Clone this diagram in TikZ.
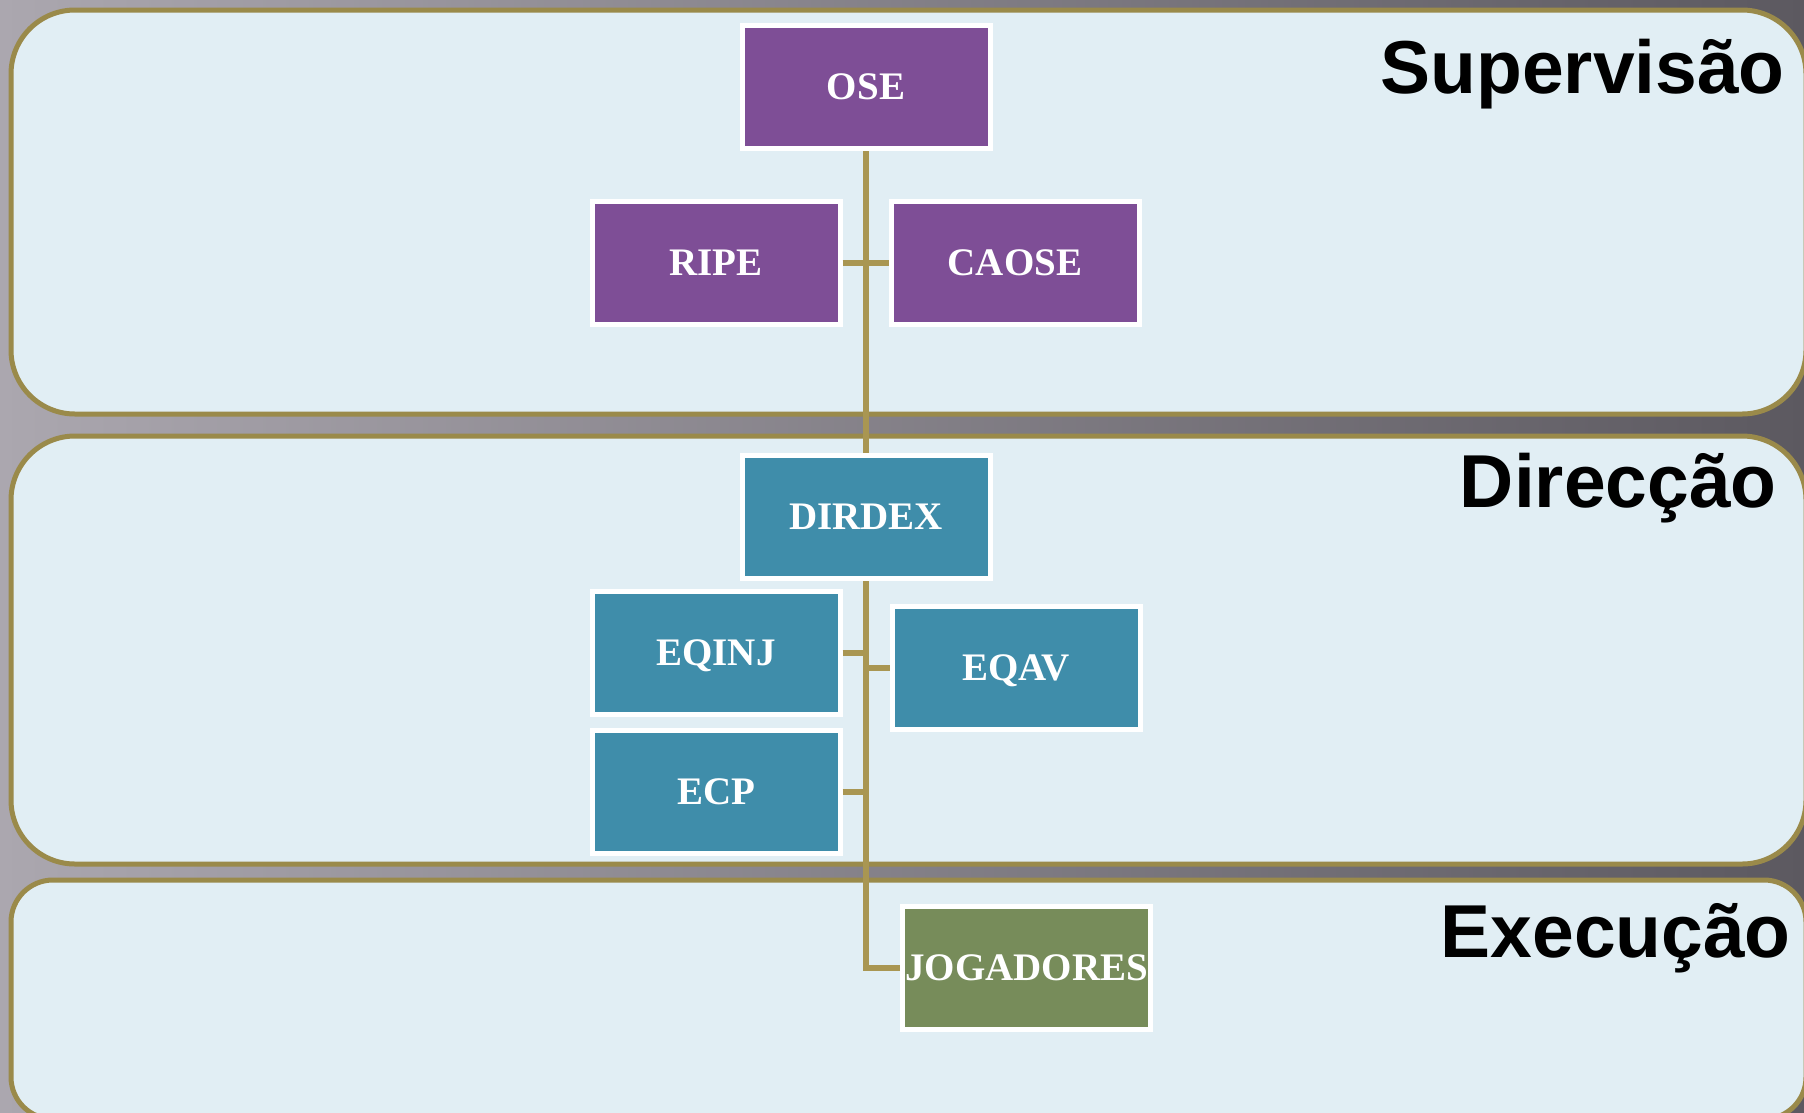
\documentclass[tikz,border=0pt]{standalone}
\usepackage{fontspec}
\setmainfont{Liberation Serif}
\newfontfamily\titlefont{Liberation Sans}
\definecolor{bandfill}{HTML}{E1EEF4}
\definecolor{bandline}{HTML}{9A8A4A}
\definecolor{boxpurple}{HTML}{7E4E96}
\definecolor{boxteal}{HTML}{3F8DAA}
\definecolor{boxgreen}{HTML}{778C5A}
\definecolor{connline}{HTML}{A99652}
\definecolor{bgL}{HTML}{ABA7AF}
\definecolor{bgR}{HTML}{5C5960}
\begin{document}
\begin{tikzpicture}[x=1pt,y=-1pt,
  band/.style={draw=bandline, line width=5pt, fill=bandfill},
  box/.style={draw=white, line width=5pt, minimum width=248pt, minimum height=123pt,
    inner sep=0pt, outer sep=2.5pt, text=white, text height=25pt, text depth=0pt,
    font=\fontsize{39}{41}\selectfont\bfseries},
  conn/.style={draw=connline, line width=6pt},
  title/.style={inner sep=0pt, anchor=base east, text=black,
    font=\titlefont\bfseries\fontsize{75}{80}\selectfont}]
\useasboundingbox (0,0) rectangle (1804,1112);
\clip (0,0) rectangle (1804,1112);
\shade[left color=bgL, right color=bgR] (0,0) rectangle (1804,1112);
% bands
\draw[band, rounded corners=64pt] (11,10) rectangle (1806,414);
\draw[band, rounded corners=64pt] (11,436) rectangle (1806,864);
\draw[band, rounded corners=42pt] (11,880) rectangle (1806,1119);
% titles
\node[title] (tS) at (1785,93) {Supervisão};
\node[title] (tD) at (1777,507) {Direcção};
\node[title] (tE) at (1791,957) {Execução};
% boxes
\node[box, fill=boxpurple] (OSE) at (866,87) {OSE};
\node[box, fill=boxpurple] (RIPE) at (716,263) {RIPE};
\node[box, fill=boxpurple] (CAOSE) at (1015,263) {CAOSE};
\node[box, fill=boxteal] (DIRDEX) at (866,517) {DIRDEX};
\node[box, fill=boxteal] (EQINJ) at (716,653) {EQINJ};
\node[box, fill=boxteal] (EQAV) at (1016,668) {EQAV};
\node[box, fill=boxteal] (ECP) at (716,791.5) {ECP};
\node[box, fill=boxgreen] (JOG) at (1026.5,967.5) {JOGADORES};
% connectors
\draw[conn] (OSE.south) -- (DIRDEX.north);
\draw[conn] (RIPE.east) -- (CAOSE.west);
\draw[conn] (DIRDEX.south) |- (JOG.west);
\draw[conn] (EQINJ.east) -- (EQINJ.east -| DIRDEX.south);
\draw[conn] (EQAV.west) -- (EQAV.west -| DIRDEX.south);
\draw[conn] (ECP.east) -- (ECP.east -| DIRDEX.south);
\end{tikzpicture}
\end{document}
